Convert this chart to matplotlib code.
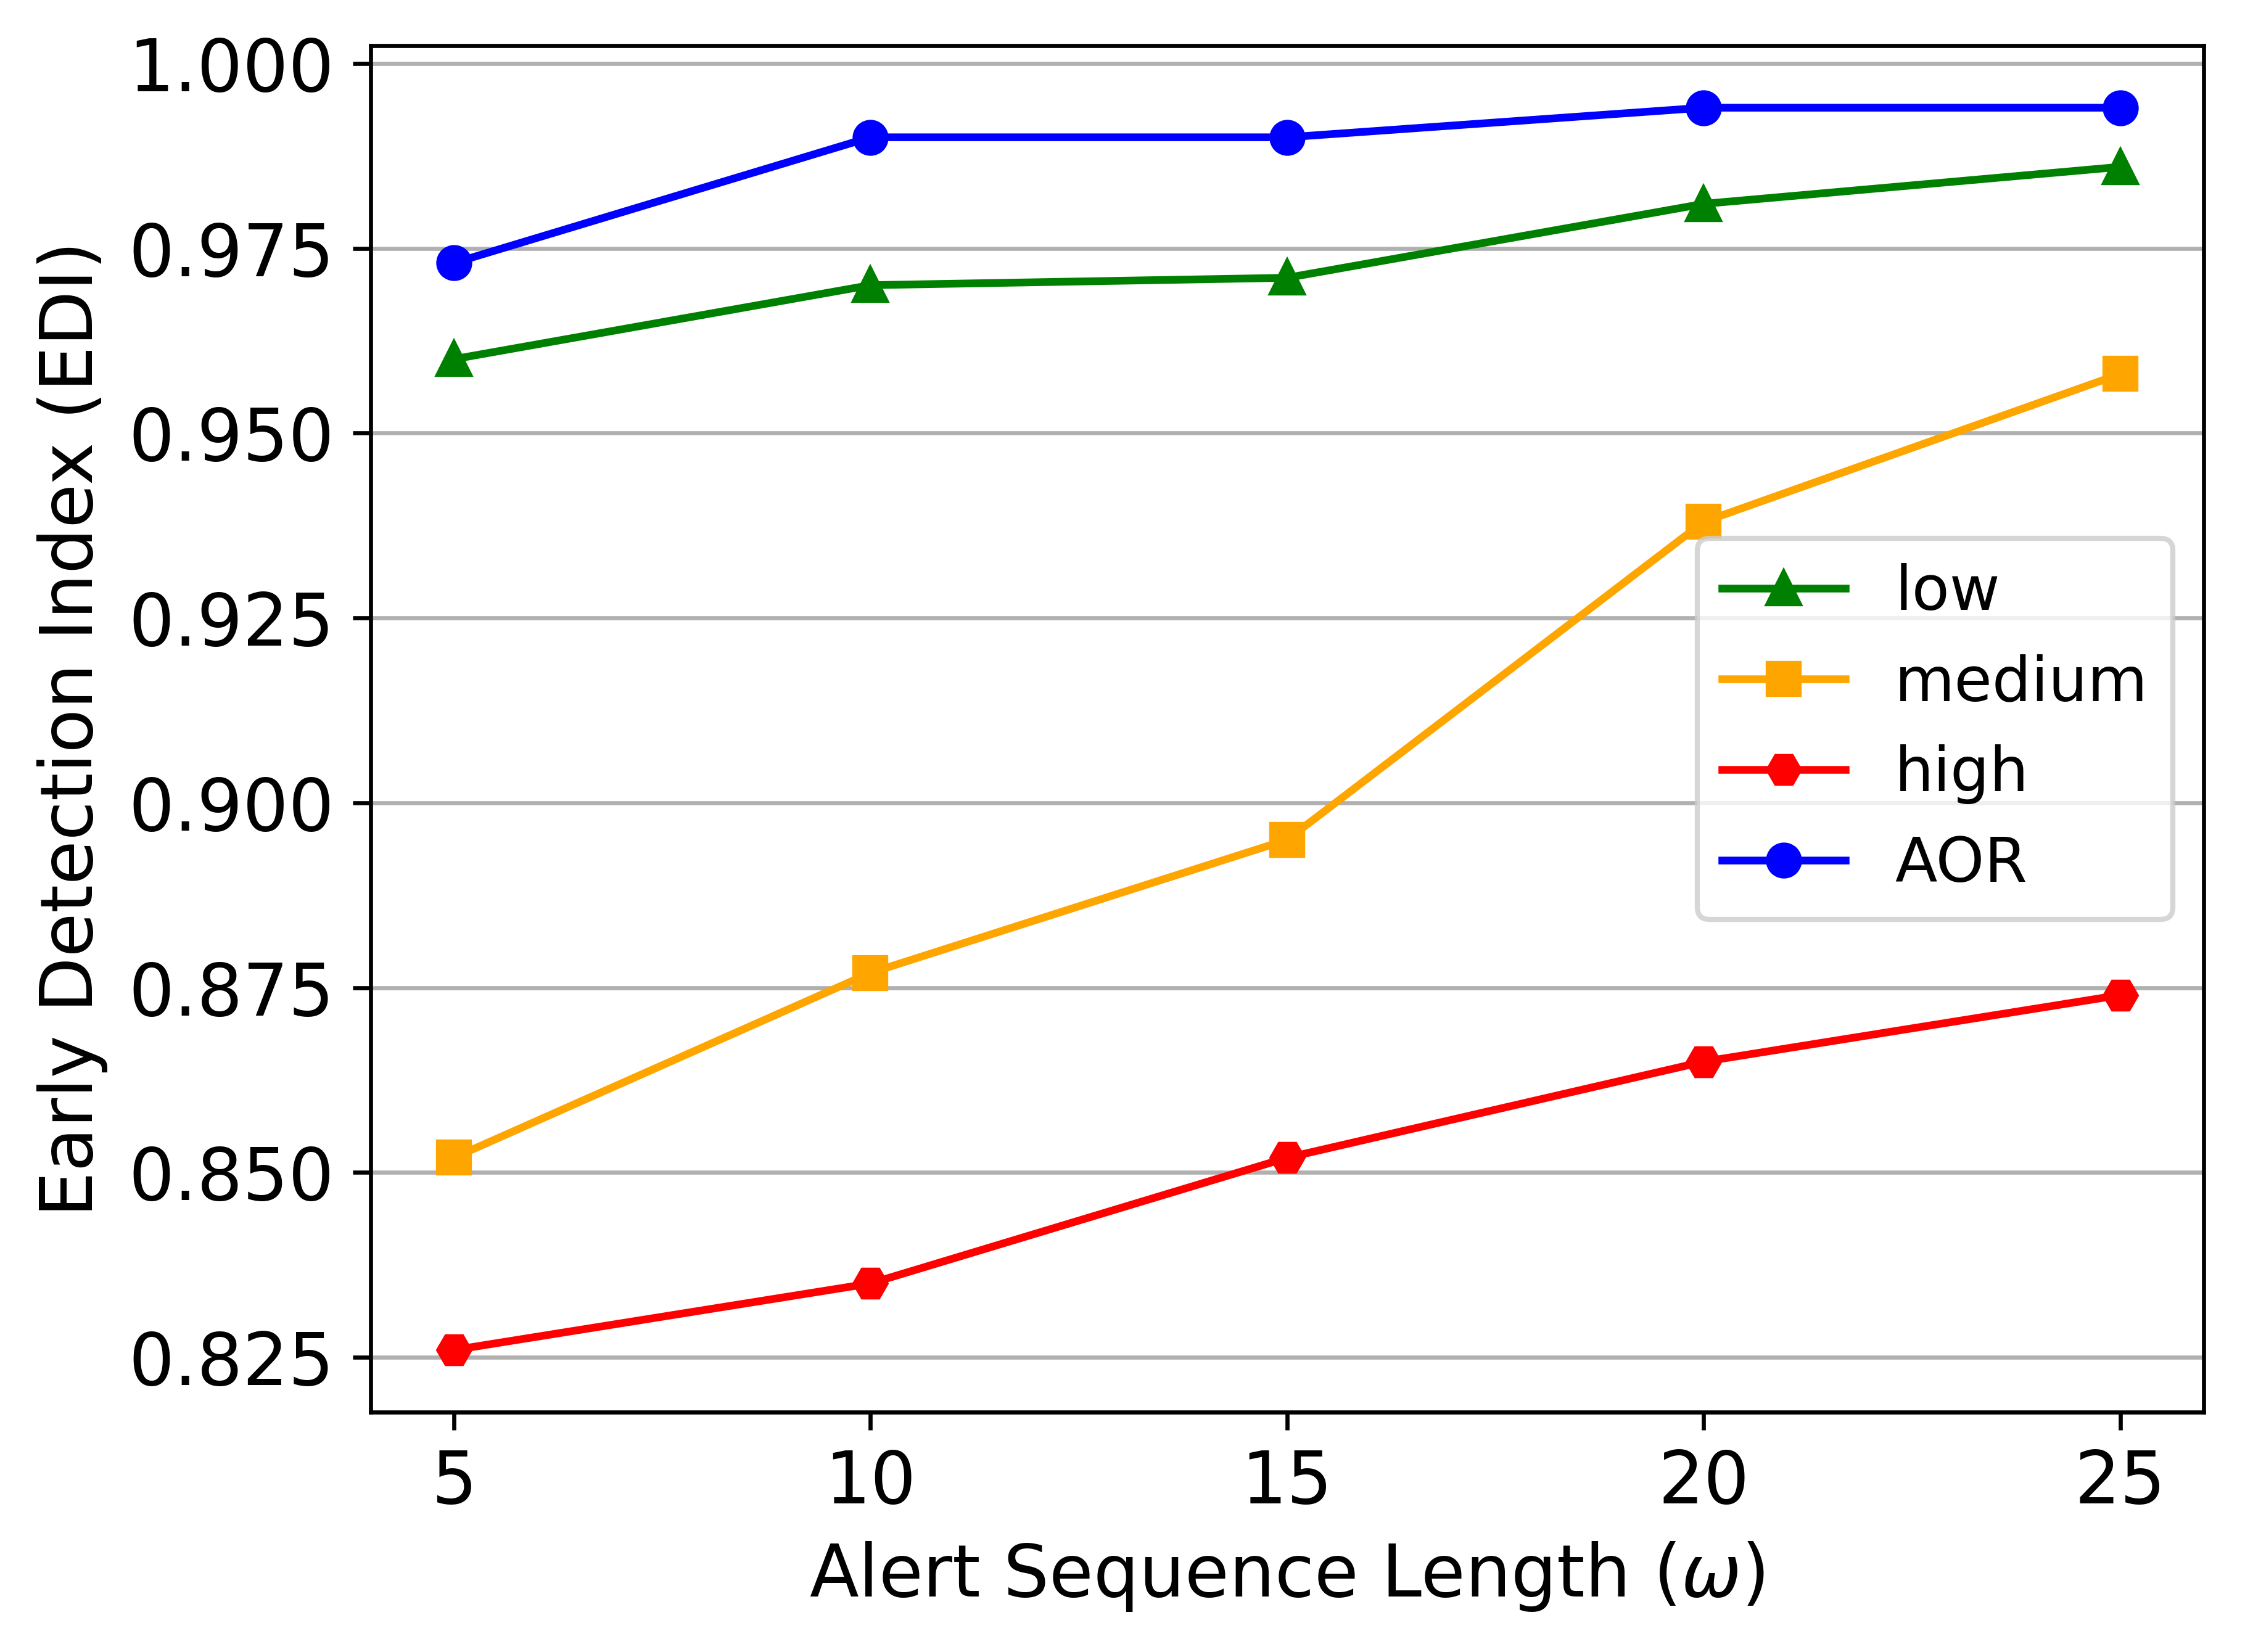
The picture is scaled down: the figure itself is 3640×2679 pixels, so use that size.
import matplotlib
matplotlib.use('Agg')
import matplotlib.pyplot as plt

# values
seq_len = [5, 10, 15, 20, 25]
edi_low = [0.960, 0.970, 0.971, 0.981, 0.986]
edi_medium = [0.852, 0.877, 0.895, 0.938, 0.958]
edi_high = [0.826, 0.835, 0.852, 0.865, 0.874]
edi_aor = [0.973, 0.990, 0.990, 0.994, 0.994]

fig = plt.figure(figsize=(3640 / 600, 2679 / 600), dpi=600)
ax = fig.add_axes([0.165, 0.1452, 0.8166, 0.8272])

ax.plot(seq_len, edi_low, color='green', marker='^', label='low')
ax.plot(seq_len, edi_medium, color='orange', marker='s', label='medium')
ax.plot(seq_len, edi_high, color='red', marker='H', label='high')
ax.plot(seq_len, edi_aor, color='blue', marker='o', label='AOR')

ax.set_xticks(seq_len)
ax.tick_params(labelsize=14)
ax.grid(axis='y')
ax.set_xlabel(r'Alert Sequence Length ($\omega$)', fontsize=14)
ax.set_ylabel('Early Detection Index (EDI)', fontsize=14)
ax.legend(loc='center right', fontsize=12)

fig.savefig('out.png', dpi=600)
